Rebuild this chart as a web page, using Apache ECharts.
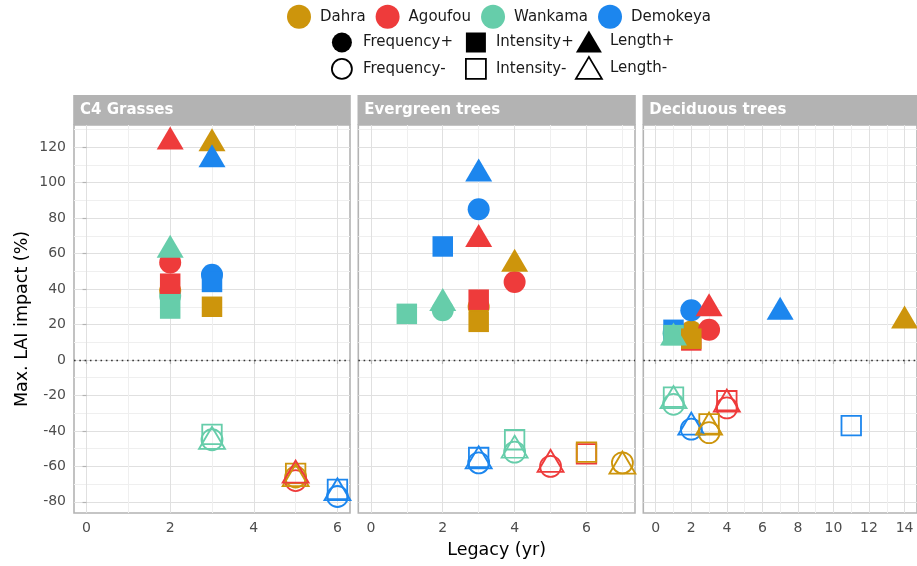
<!DOCTYPE html>
<html><head><meta charset="utf-8">
<script src="https://cdn.jsdelivr.net/npm/echarts@6/dist/echarts.min.js"></script>
<style>html,body{margin:0;padding:0;background:#fff}#chart{width:917px;height:566px}</style>
</head><body><div id="chart"></div>
<script>
// ---------- data ----------
const sites = ['Dahra', 'Agoufou', 'Wankama', 'Demokeya'];
const metrics = ['Frequency+', 'Intensity+', 'Length+', 'Frequency-', 'Intensity-', 'Length-'];
const panelNames = ['C4 Grasses', 'Evergreen trees', 'Deciduous trees'];

// [site, metric, legacy (yr), max LAI impact (%)]
const c4Grasses = [
  ['Agoufou', 'Frequency+', 2, 55],
  ['Dahra', 'Frequency+', 2, 39],
  ['Wankama', 'Frequency+', 2, 36],
  ['Demokeya', 'Frequency+', 3, 48],
  ['Agoufou', 'Intensity+', 2, 43],
  ['Wankama', 'Intensity+', 2, 29],
  ['Demokeya', 'Intensity+', 3, 44],
  ['Dahra', 'Intensity+', 3, 30],
  ['Agoufou', 'Length+', 2, 123],
  ['Dahra', 'Length+', 3, 122],
  ['Demokeya', 'Length+', 3, 113],
  ['Wankama', 'Length+', 2, 62],
  ['Wankama', 'Frequency-', 3, -45],
  ['Dahra', 'Frequency-', 5, -66],
  ['Agoufou', 'Frequency-', 5, -68],
  ['Demokeya', 'Frequency-', 6, -77],
  ['Wankama', 'Intensity-', 3, -42],
  ['Dahra', 'Intensity-', 5, -64],
  ['Demokeya', 'Intensity-', 6, -73],
  ['Wankama', 'Length-', 3, -46],
  ['Dahra', 'Length-', 5, -67],
  ['Agoufou', 'Length-', 5, -65],
  ['Demokeya', 'Length-', 6, -75]
];
const evergreenTrees = [
  ['Demokeya', 'Frequency+', 3, 85],
  ['Agoufou', 'Frequency+', 4, 44],
  ['Wankama', 'Frequency+', 2, 28],
  ['Dahra', 'Frequency+', 3, 30],
  ['Demokeya', 'Intensity+', 2, 64],
  ['Wankama', 'Intensity+', 1, 26],
  ['Agoufou', 'Intensity+', 3, 34],
  ['Dahra', 'Intensity+', 3, 21.5],
  ['Demokeya', 'Length+', 3, 105],
  ['Agoufou', 'Length+', 3, 68],
  ['Dahra', 'Length+', 4, 54],
  ['Wankama', 'Length+', 2, 32],
  ['Demokeya', 'Frequency-', 3, -58],
  ['Wankama', 'Frequency-', 4, -52],
  ['Agoufou', 'Frequency-', 5, -60],
  ['Dahra', 'Frequency-', 7, -58],
  ['Demokeya', 'Intensity-', 3, -55],
  ['Wankama', 'Intensity-', 4, -45],
  ['Agoufou', 'Intensity-', 6, -53],
  ['Dahra', 'Intensity-', 6, -52],
  ['Demokeya', 'Length-', 3, -57],
  ['Wankama', 'Length-', 4, -51],
  ['Agoufou', 'Length-', 5, -59],
  ['Dahra', 'Length-', 7, -60]
];
const deciduousTrees = [
  ['Dahra', 'Frequency+', 2, 16],
  ['Wankama', 'Frequency+', 1, 15],
  ['Demokeya', 'Frequency+', 2, 28],
  ['Agoufou', 'Frequency+', 3, 17],
  ['Demokeya', 'Intensity+', 1, 17],
  ['Wankama', 'Intensity+', 1, 14],
  ['Agoufou', 'Intensity+', 2, 11],
  ['Dahra', 'Intensity+', 2, 12],
  ['Wankama', 'Length+', 1, 12.5],
  ['Agoufou', 'Length+', 3, 29],
  ['Demokeya', 'Length+', 7, 27],
  ['Dahra', 'Length+', 14, 22],
  ['Wankama', 'Frequency-', 1, -25],
  ['Agoufou', 'Frequency-', 4, -27],
  ['Demokeya', 'Frequency-', 2, -39],
  ['Dahra', 'Frequency-', 3, -41],
  ['Wankama', 'Intensity-', 1, -21],
  ['Agoufou', 'Intensity-', 4, -23],
  ['Dahra', 'Intensity-', 3, -36],
  ['Demokeya', 'Intensity-', 11, -37],
  ['Wankama', 'Length-', 1, -23],
  ['Agoufou', 'Length-', 4, -25],
  ['Demokeya', 'Length-', 2, -38],
  ['Dahra', 'Length-', 3, -38]
];

const yLimits = [-86.3, 132.5];
const yMajorTicks = [-80, -60, -40, -20, 0, 20, 40, 60, 80, 100, 120];
const yMinorTicks = [-70, -50, -30, -10, 10, 30, 50, 70, 90, 110, 130];
const xLimits = [[-0.3, 6.3], [-0.35, 7.35], [-0.7, 14.7]];
const xMajorTicks = [[0, 2, 4, 6], [0, 2, 4, 6], [0, 2, 4, 6, 8, 10, 12, 14]];
const xMinorTicks = [[1, 3, 5], [1, 3, 5, 7], [1, 3, 5, 7, 9, 11, 13]];

// ---------- styles / layout ----------
const siteColors = { Dahra: '#CD950C', Agoufou: '#EE3B3B', Wankama: '#66CDAA', Demokeya: '#1C86EE' };
const FONT = '"DejaVu Sans", sans-serif';
const gridBoxes = [{ left: 74, width: 276 }, { left: 358.3, width: 276.7 }, { left: 643.3, width: 277 }];
const gridTop = 125, gridHeight = 388;
const majorLine = { color: '#e0e0e0', width: 1 };
const minorLine = { color: '#efefef', width: 1 };
const symbolOf = { Frequency: 'circle', Intensity: 'rect', Length: 'triangle' };
const filledSize = { Frequency: 22, Intensity: 20.5, Length: [27, 23] };
const openSize = { Frequency: 21, Intensity: 19.5, Length: [26, 22] };

const panelData = [c4Grasses, evergreenTrees, deciduousTrees];

const grids = gridBoxes.map(b => ({
  left: b.left, top: gridTop, width: b.width, height: gridHeight,
  show: true, borderColor: '#b3b3b3', borderWidth: 1.6, backgroundColor: 'transparent'
}));

const xAxes = [], yAxes = [];
panelData.forEach((_, p) => {
  xAxes.push({
    type: 'value', gridIndex: p, min: xLimits[p][0], max: xLimits[p][1],
    axisLine: { show: false },
    axisTick: { show: true, length: 4, lineStyle: { color: '#b3b3b3', width: 1.2 }, customValues: xMajorTicks[p] },
    axisLabel: { show: true, margin: 8, color: '#4d4d4d', fontSize: 14, fontFamily: FONT, customValues: xMajorTicks[p] },
    splitLine: { show: true, lineStyle: majorLine },
    name: p === 1 ? 'Legacy (yr)' : '', nameLocation: 'middle', nameGap: 28,
    nameTextStyle: { color: '#000', fontSize: 17.5, fontFamily: FONT }
  });
  xAxes.push({
    type: 'value', gridIndex: p, min: xLimits[p][0], max: xLimits[p][1],
    axisLine: { show: false }, axisLabel: { show: false },
    axisTick: { show: false, customValues: xMinorTicks[p] },
    splitLine: { show: true, lineStyle: minorLine }
  });
  yAxes.push({
    type: 'value', gridIndex: p, min: yLimits[0], max: yLimits[1],
    axisLine: { show: false },
    axisTick: { show: p === 0, length: 4, lineStyle: { color: '#b3b3b3', width: 1.2 }, customValues: yMajorTicks },
    axisLabel: { show: p === 0, margin: 8, color: '#4d4d4d', fontSize: 14, fontFamily: FONT, customValues: yMajorTicks },
    splitLine: { show: true, lineStyle: majorLine },
    name: p === 0 ? 'Max. LAI impact (%)' : '', nameLocation: 'middle', nameGap: 43, nameRotate: 90,
    nameTextStyle: { color: '#000', fontSize: 17.5, fontFamily: FONT }
  });
  yAxes.push({
    type: 'value', gridIndex: p, min: yLimits[0], max: yLimits[1],
    axisLine: { show: false }, axisLabel: { show: false },
    axisTick: { show: false, customValues: yMinorTicks },
    splitLine: { show: true, lineStyle: minorLine }
  });
});

const series = [];
panelData.forEach((rows, p) => {
  metrics.forEach((m, mi) => {
    const kind = m.slice(0, -1);
    const filled = m.endsWith('+');
    const h = filled ? (Array.isArray(filledSize[kind]) ? filledSize[kind][1] : 0) : (Array.isArray(openSize[kind]) ? openSize[kind][1] : 0);
    const s = {
      type: 'scatter', name: m, xAxisIndex: 2 * p, yAxisIndex: 2 * p,
      symbol: symbolOf[kind],
      symbolSize: filled ? filledSize[kind] : openSize[kind],
      symbolOffset: [0, -h / 6],
      itemStyle: { opacity: 1 },
      silent: true, emphasis: { disabled: true },
      data: rows.filter(r => r[1] === m).map(r => ({
        value: [r[2], r[3]],
        itemStyle: filled
          ? { color: siteColors[r[0]], opacity: 1 }
          : { color: 'rgba(255,255,255,0)', borderColor: siteColors[r[0]], borderWidth: 1.8, opacity: 1 }
      }))
    };
    if (mi === 0) {
      s.markLine = {
        silent: true, symbol: 'none', label: { show: false }, animation: false,
        lineStyle: { type: [1.6, 3.7], color: '#333', width: 1.3 },
        emphasis: { disabled: true },
        data: [{ yAxis: 0 }]
      };
    }
    series.push(s);
  });
});
sites.forEach(s => series.push({
  type: 'scatter', name: s, data: [], xAxisIndex: 0, yAxisIndex: 0,
  itemStyle: { color: siteColors[s], opacity: 1 }
}));

const legendText = { fontSize: 15, color: '#1a1a1a', fontFamily: FONT };
const openStyle = { color: '#fff', borderColor: '#000', borderWidth: 1.8, opacity: 1 };
const filledBlack = { color: '#000', opacity: 1 };
const legends = [
  {
    data: sites.map(s => ({ name: s, icon: 'circle', itemStyle: { color: siteColors[s], opacity: 1 } })),
    left: 287, top: 4.7, padding: 0, itemWidth: 24, itemHeight: 24, itemGap: 10, selectedMode: false,
    textStyle: Object.assign({ padding: [0, 0, 0, 4] }, legendText)
  },
  {
    orient: 'vertical', left: 331, top: 32.5, padding: 0, itemWidth: 20, itemHeight: 20, itemGap: 5.5, selectedMode: false,
    data: [{ name: 'Frequency+', icon: 'circle', itemStyle: filledBlack },
           { name: 'Frequency-', icon: 'circle', itemStyle: openStyle }],
    textStyle: Object.assign({ padding: [0, 0, 0, 6] }, legendText)
  },
  {
    orient: 'vertical', left: 465, top: 32.5, padding: 0, itemWidth: 20, itemHeight: 20, itemGap: 5.5, selectedMode: false,
    data: [{ name: 'Intensity+', icon: 'rect', itemStyle: filledBlack },
           { name: 'Intensity-', icon: 'rect', itemStyle: openStyle }],
    textStyle: Object.assign({ padding: [0, 0, 0, 5] }, legendText)
  },
  {
    orient: 'vertical', left: 575, top: 30.5, padding: 0, itemWidth: 26, itemHeight: 22, itemGap: 3.5, selectedMode: false,
    data: [{ name: 'Length+', icon: 'triangle', itemStyle: filledBlack },
           { name: 'Length-', icon: 'triangle', itemStyle: openStyle }],
    textStyle: Object.assign({ padding: [0, 0, 0, 3] }, legendText)
  }
];

const graphics = [];
gridBoxes.forEach((b, p) => {
  graphics.push({
    type: 'rect', z: 10, silent: true,
    shape: { x: b.left - 0.8, y: 95, width: b.width + 1.6, height: 30 },
    style: { fill: '#b3b3b3' }
  });
  graphics.push({
    type: 'text', z: 11, silent: true, x: b.left + 6, y: 110.5,
    style: { text: panelNames[p], fill: '#ffffff', font: 'bold 15px ' + FONT, verticalAlign: 'middle', align: 'left' }
  });
});

const chart = echarts.init(document.getElementById('chart'), null, { renderer: 'canvas' });
chart.setOption({
  animation: false,
  backgroundColor: '#ffffff',
  textStyle: { fontFamily: FONT },
  grid: grids,
  xAxis: xAxes,
  yAxis: yAxes,
  legend: legends,
  graphic: graphics,
  series: series
});
</script>
</body></html>
